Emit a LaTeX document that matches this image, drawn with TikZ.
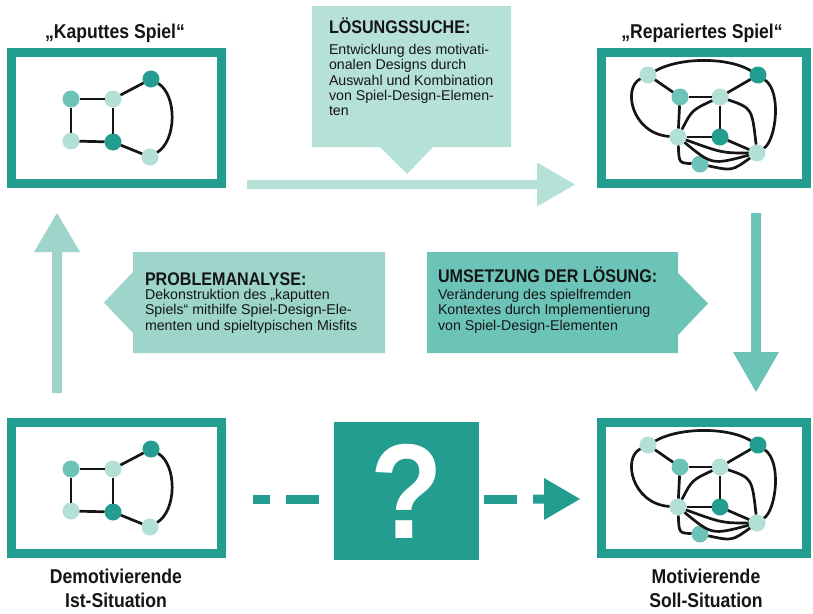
\documentclass[tikz,border=0pt]{standalone}
\usepackage{fontspec}
\setmainfont{Liberation Sans}
\newfontfamily\condfont[FakeStretch=0.88]{Liberation Sans}
\definecolor{tealdark}{HTML}{239D8F}
\definecolor{tealmid}{HTML}{6CC3B8}
\definecolor{tealsoft}{HTML}{9DD5CB}
\definecolor{teallight}{HTML}{B6E1D9}
\definecolor{nodelight}{HTML}{B2DFD6}
\definecolor{nodemid}{HTML}{6EC3B9}
\definecolor{ink}{HTML}{151515}

\newcommand\brokengraph[2]{%
  \begin{scope}[shift={(0,#2)}]
    \node[gm] (#1a) at (71,99) {};
    \node[gl] (#1b) at (113,99) {};
    \node[gd] (#1c) at (151,79) {};
    \node[gl] (#1d) at (71,141) {};
    \node[gd] (#1e) at (113,142) {};
    \node[gl] (#1f) at (150,157) {};
    \draw[gedge] (#1a) -- (#1b);
    \draw[gedge] (#1a) -- (#1d);
    \draw[gedge] (#1b) -- (#1e);
    \draw[gedge] (#1d) -- (#1e);
    \draw[gedge] (#1b) -- (#1c);
    \draw[gedge] (#1e) -- (#1f);
    \draw[gedge] (#1c) .. controls (177,95) and (177,140) .. (#1f);
  \end{scope}}

\newcommand\fixedgraph[2]{%
  \begin{scope}[shift={(0,#2)},every node/.append style={minimum size=16pt}]
    \node[gl] (#1p1) at (648,75) {};
    \node[gd] (#1p2) at (758,75) {};
    \node[gm] (#1p3) at (680,97) {};
    \node[gl] (#1p4) at (720,97) {};
    \node[gl] (#1p5) at (678,137) {};
    \node[gd] (#1p6) at (720,137) {};
    \node[gl] (#1p7) at (757,153) {};
    \node[gm] (#1p8) at (700,164) {};
    \draw[gedge] (#1p1) -- (#1p3);
    \draw[gedge] (#1p3) -- (#1p4);
    \draw[gedge] (#1p4) -- (#1p2);
    \draw[gedge] (#1p3) -- (#1p5);
    \draw[gedge] (#1p4) -- (#1p6);
    \draw[gedge] (#1p5) -- (#1p6);
    \draw[gedge] (#1p6) -- (#1p7);
    \draw[gedge] (#1p1) .. controls (680,57) and (728,57) .. (#1p2);
    \draw[gedge] (#1p1) .. controls (622,88) and (632,134) .. (#1p5);
    \draw[gedge] (#1p2) .. controls (782,92) and (776,140) .. (#1p7);
    \draw[gedge] (#1p5) .. controls (692,110) .. (#1p4);
    \draw[gedge] (#1p4) .. controls (752,108) .. (#1p7);
    \draw[gedge] (#1p5) .. controls (722,153) .. (#1p7);
    \draw[gedge] (#1p5) .. controls (712,165) .. (#1p7);
    \draw[gedge] (#1p5) .. controls (679,163) .. (#1p8);
    \draw[gedge] (#1p8) .. controls (732,171) .. (#1p7);
  \end{scope}}

\begin{document}
\begin{tikzpicture}[x=1pt,y=-1pt,
  every node/.style={inner sep=0pt,outer sep=0pt},
  frame/.style={draw=tealdark,line width=9pt,fill=white},
  gedge/.style={line width=2.7pt,draw=ink},
  gnode/.style={circle,minimum size=17pt,draw=none},
  gl/.style={gnode,fill=nodelight},
  gm/.style={gnode,fill=nodemid},
  gd/.style={gnode,fill=tealdark},
  titletext/.style={font=\condfont\bfseries\fontsize{20pt}{22pt}\selectfont,text=ink,anchor=base},
  headtext/.style={font=\condfont\bfseries\fontsize{18.3pt}{20pt}\selectfont,text=ink,anchor=base west},
  bodytext/.style={font=\fontsize{14.2pt}{15.4pt}\selectfont,text=ink,anchor=base west},
  qbox/.style={fill=tealdark,minimum width=145pt,minimum height=138pt,text=white,
    font=\condfont\bfseries\fontsize{135pt}{140pt}\selectfont},
]
\useasboundingbox (0,0) rectangle (813,613);
\fill[white] (0,0) rectangle (813,613);

% frames
\node[frame,minimum width=210pt,minimum height=131pt] (kbox) at (116.5,118) {};
\node[frame,minimum width=205pt,minimum height=131pt] (rbox) at (704,118) {};
\node[frame,minimum width=210pt,minimum height=131pt] (ibox) at (116.5,488) {};
\node[frame,minimum width=205pt,minimum height=131pt] (sbox) at (704,488) {};

\brokengraph{k}{0}
\brokengraph{i}{370}
\fixedgraph{r}{0}
\fixedgraph{s}{370}

% titles
\node[titletext] (ktitle) at (115,38) {„Kaputtes Spiel“};
\node[titletext] (rtitle) at (702,38) {„Repariertes Spiel“};
\node[titletext] (ilab1) at (116,583) {Demotivierende};
\node[titletext] (ilab2) at (116,607) {Ist-Situation};
\node[titletext] (slab1) at (706,583) {Motivierende};
\node[titletext] (slab2) at (706,607) {Soll-Situation};

% top callout + arrow
\fill[teallight] (312,6) -- (511,6) -- (511,147) -- (433,147) -- (407,174) -- (380,147) -- (312,147) -- cycle;
\fill[teallight] (247,180) -- (537,180) -- (537,162.5) -- (575,184.5) -- (537,206.5) -- (537,189) -- (247,189) -- cycle;
\node[headtext] (lsh) at (329,33.3) {LÖSUNGSSUCHE:};
\foreach \txt [count=\i from 0] in {{Entwicklung des motivati-},{onalen Designs durch},{Auswahl und Kombination},{von Spiel-Design-Elemen-},{ten}}
  \node[bodytext] (ls\i) at (329,{54.3+15.4*\i}) {\txt};

% left callout + arrow
\fill[tealsoft] (133,252) -- (385,252) -- (385,353) -- (133,353) -- (133,333) -- (104,302.5) -- (133,272) -- cycle;
\fill[tealsoft] (52,393) -- (52,252) -- (34,252) -- (57,213) -- (80,252) -- (62,252) -- (62,393) -- cycle;
\node[headtext] (pah) at (145,285) {PROBLEMANALYSE:};
\foreach \txt [count=\i from 0] in {{Dekonstruktion des „kaputten},{Spiels“ mithilfe Spiel-Design-Ele-},{menten und spieltypischen Misfits}}
  \node[bodytext] (pa\i) at (145,{299.5+15.3*\i}) {\txt};

% right callout + arrow
\fill[tealmid] (427,252) -- (678,252) -- (678,273) -- (708,303.5) -- (678,335) -- (678,353) -- (427,353) -- cycle;
\fill[tealmid] (751,213) -- (761,213) -- (761,352) -- (779,352) -- (756,392) -- (733,352) -- (751,352) -- cycle;
\node[headtext] (umh) at (438,282) {UMSETZUNG DER LÖSUNG:};
\foreach \txt [count=\i from 0] in {{Veränderung des spielfremden},{Kontextes durch Implementierung},{von Spiel-Design-Elementen}}
  \node[bodytext] (um\i) at (438,{299.5+15.3*\i}) {\txt};

% question box and dashed arrow
\node[qbox] (q) at (406.5,491) {?};
\fill[tealdark] (253,494.5) rectangle (270,503.5);
\fill[tealdark] (286,494.5) rectangle (319,503.5);
\fill[tealdark] (484,494.5) rectangle (517,503.5);
\fill[tealdark] (533,494.5) -- (544,494.5) -- (544,478) -- (580,499) -- (544,520) -- (544,503.5) -- (533,503.5) -- cycle;
\end{tikzpicture}
\end{document}
